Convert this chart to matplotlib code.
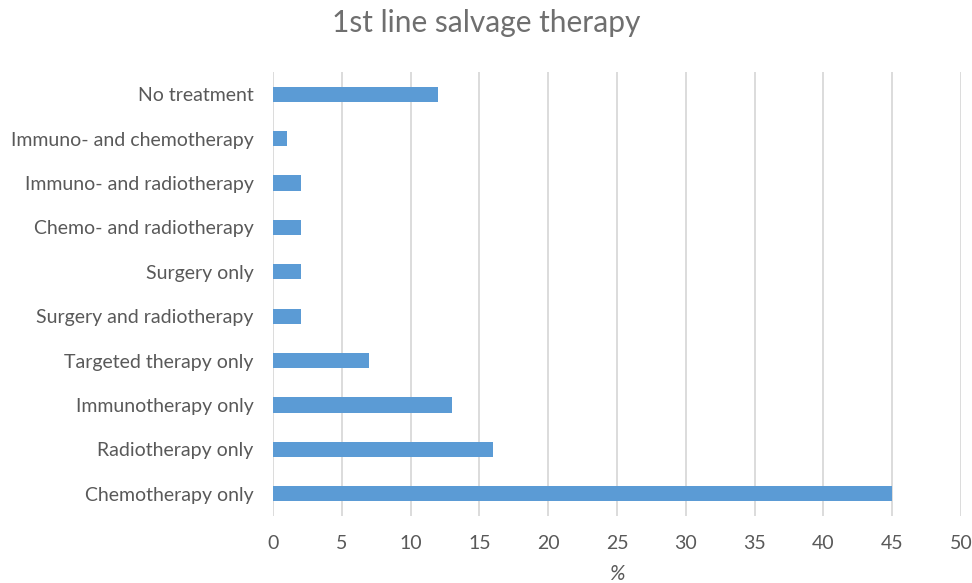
import matplotlib.pyplot as plt

categories = ['Chemotherapy only', 'Radiotherapy only', 'Immunotherapy only',
              'Targeted therapy only', 'Surgery and radiotherapy', 'Surgery only',
              'Chemo- and radiotherapy', 'Immuno- and radiotherapy',
              'Immuno- and chemotherapy', 'No treatment']
values = [45, 16, 13, 7, 2, 2, 2, 2, 1, 12]
xticks = list(range(0, 51, 5))

plt.rcParams['font.family'] = ['Lato', 'DejaVu Sans']
grey = '#595959'

fig = plt.figure(figsize=(9.72, 5.83), dpi=100)
ax = fig.add_axes([273 / 972, 1 - 516 / 583, (961 - 273) / 972, (516 - 72) / 583])

ax.barh(range(len(categories)), values, height=0.34, color='#5b9bd5', zorder=3)

ax.set_xlim(0, 50)
ax.set_ylim(-0.5, len(categories) - 0.5)
ax.set_xticks(xticks)
ax.set_yticks(range(len(categories)))
ax.set_yticklabels(categories)
ax.grid(axis='x', color='#d9d9d9', linewidth=1.3, zorder=0)
for s in ax.spines.values():
    s.set_visible(False)
ax.tick_params(axis='both', length=0, labelsize=14, labelcolor=grey)
ax.tick_params(axis='x', pad=14)
ax.tick_params(axis='y', pad=14)

ax.set_xlabel('%', fontsize=15, color=grey, style='italic', labelpad=8)
fig.suptitle('1st line salvage therapy', fontsize=21.5, color='#6f6f6f', y=0.985)

fig.savefig('out.png', dpi=100)
